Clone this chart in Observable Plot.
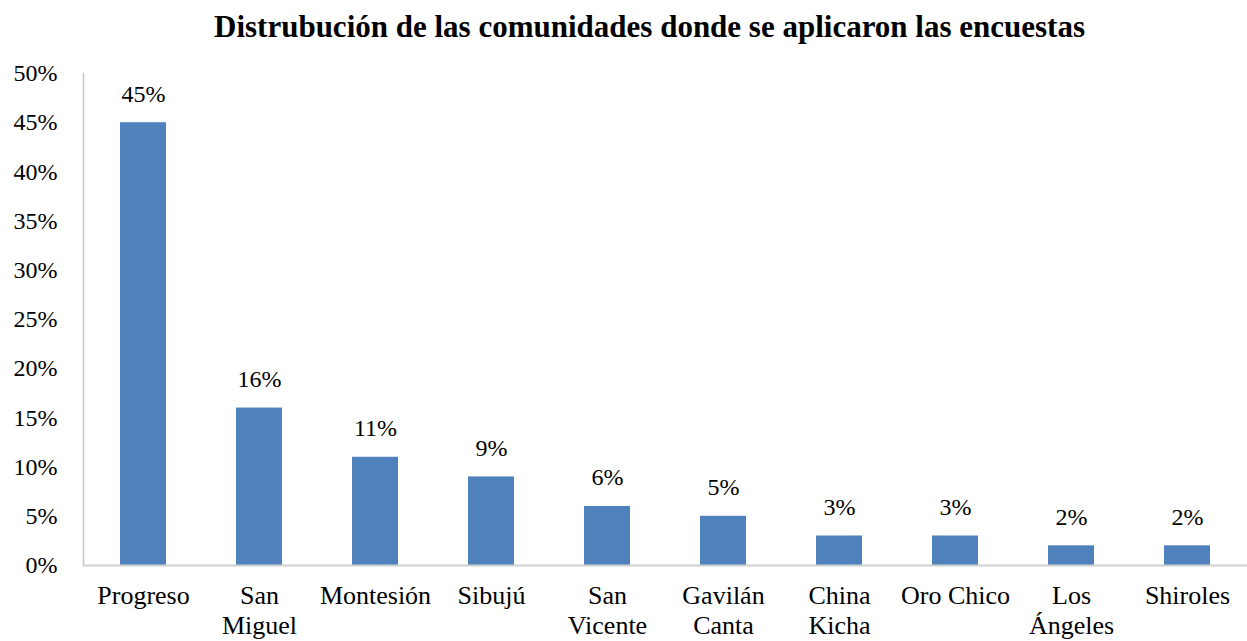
<!DOCTYPE html>
<html><head><meta charset="utf-8">
<script src="https://cdn.jsdelivr.net/npm/d3@7"></script>
<script src="https://cdn.jsdelivr.net/npm/@observablehq/plot@0.6"></script>
<style>
body{margin:0;background:#fff;}
#title{height:54px;box-sizing:border-box;padding-top:9px;padding-left:52px;text-align:center;font-family:"Liberation Serif","Times New Roman",serif;font-weight:bold;font-size:31px;color:#000;line-height:36px;white-space:nowrap;}
svg{display:block;}
svg text{font-family:"Liberation Serif","Times New Roman",serif;}
</style></head>
<body>
<div id="title">Distrubución de las comunidades donde se aplicaron las encuestas</div>
<div id="chart"></div>
<script>
const categories = ["Progreso","San Miguel","Montesión","Sibujú","San Vicente","Gavilán Canta","China Kicha","Oro Chico","Los Ángeles","Shiroles"];
const tickLabels = ["Progreso","San\nMiguel","Montesión","Sibujú","San\nVicente","Gavilán\nCanta","China\nKicha","Oro Chico","Los\nÁngeles","Shiroles"];
const values = [45,16,11,9,6,5,3,3,2,2];
const yTicks = [0,5,10,15,20,25,30,35,40,45,50];
const data = categories.map((c,i)=>({cat:c, label:tickLabels[i], v:values[i]}));
const labelOf = new Map(categories.map((c,i)=>[c,tickLabels[i]]));
const serif = "'Liberation Serif','Times New Roman',serif";
const chart = Plot.plot({
  width:1247, height:587,
  marginLeft:83, marginRight:0, marginTop:19, marginBottom:76,
  style:{fontFamily:serif, background:"#fff", color:"#000"},
  x:{domain:categories, paddingInner:0.6, paddingOuter:0.28, label:null},
  y:{domain:[0,50], label:null},
  marks:[
    Plot.barY(data,{x:"cat", y:"v", fill:"#4F81BD"}),
    Plot.text(data,{x:"cat", y:"v", text:d=>d.v+"%", dy:-21, lineAnchor:"bottom", fontSize:24, fontFamily:serif, fill:"#000"}),
    Plot.ruleY([0],{stroke:"#d0d0d0", strokeWidth:2}),
    Plot.frame({anchor:"left", stroke:"#c8c8c8", strokeWidth:1.5}),
    Plot.axisY({ticks:yTicks, tickFormat:d=>d+"%", tickSize:0, tickPadding:26, fontSize:24, fontFamily:serif, label:null}),
    Plot.axisX({tickSize:0, tickPadding:17, fontSize:26, lineHeight:1.15, fontFamily:serif, tickFormat:d=>labelOf.get(d), label:null})
  ]
});
document.getElementById("chart").appendChild(chart);
</script>
</body></html>
